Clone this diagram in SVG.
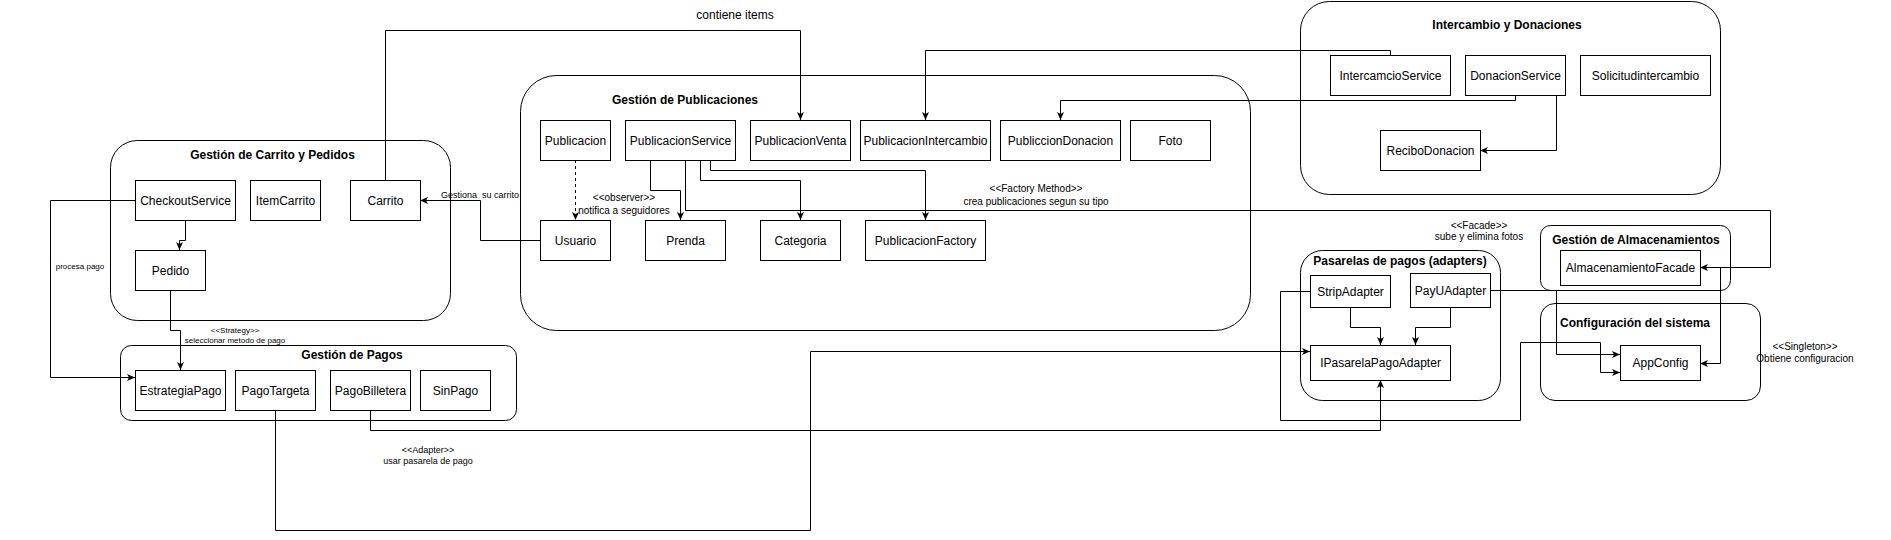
<svg xmlns="http://www.w3.org/2000/svg" width="1891" height="540" viewBox="0 0 1891 540">
<style>
.c{fill:none;stroke:#000;stroke-width:1}
.n{fill:#fff;stroke:#000;stroke-width:1}
.t{font-family:"Liberation Sans",Arial,Helvetica,sans-serif;font-size:12px;fill:#000;text-anchor:middle}
.b{font-weight:bold}
.l{font-family:"Liberation Sans",Arial,Helvetica,sans-serif;fill:#000;text-anchor:middle}
.e{fill:none;stroke:#000;stroke-width:1}
</style>
<defs>
<marker id="a" markerUnits="userSpaceOnUse" markerWidth="9" markerHeight="8" refX="8" refY="4" orient="auto">
<path d="M0,0.5 L8,4 L0,7.5 L2,4 Z" fill="#000"/>
</marker>
</defs>
<rect width="1891" height="540" fill="#fff"/>

<g id="grp-carrito"><rect class="c" x="110.5" y="140.5" width="340" height="180" rx="27"/><text class="t b" x="272.5" y="159">Gestión de Carrito y Pedidos</text></g>
<g id="grp-pagos"><rect class="c" x="120.5" y="345.5" width="396" height="75" rx="11"/><text class="t b" x="352" y="359">Gestión de Pagos</text></g>
<g id="grp-publicaciones"><rect class="c" x="520.5" y="75.5" width="730" height="255" rx="36"/><text class="t b" x="685" y="103.5">Gestión de Publicaciones</text></g>
<g id="grp-intercambio"><rect class="c" x="1300.5" y="1.5" width="420" height="193" rx="29"/><text class="t b" x="1507" y="29">Intercambio y Donaciones</text></g>
<g id="grp-pasarelas"><rect class="c" x="1300.5" y="250.5" width="200" height="150" rx="22"/><text class="t b" x="1400" y="265">Pasarelas de pagos (adapters)</text></g>
<g id="grp-almacenamientos"><rect class="c" x="1540.5" y="225.5" width="190" height="65" rx="10"/><text class="t b" x="1636" y="244">Gestión de Almacenamientos</text></g>
<g id="grp-config"><rect class="c" x="1540.5" y="303.5" width="220" height="97" rx="14.5"/><text class="t b" x="1635" y="327">Configuración del sistema</text></g>

<g id="connectors">
<path class="e" d="M385.5,180 V30.5 H800.5 V120" marker-end="url(#a)"/>
<path class="e" d="M540,240.5 H480.5 V200.5 H420" marker-end="url(#a)"/>
<path class="e" d="M135,200.5 H50.5 V377.5 H135" marker-end="url(#a)"/>
<path class="e" d="M185.5,220 V240.5 H179.5 V250" marker-end="url(#a)"/>
<path class="e" d="M170.5,290 V330.5 H180.5 V370" marker-end="url(#a)"/>
<path class="e" d="M575.5,160 V220" stroke-dasharray="3,3" marker-end="url(#a)"/>
<path class="e" d="M650.5,160 V190.5 H680.5 V220" marker-end="url(#a)"/>
<path class="e" d="M700.5,160 V180.5 H800.5 V220" marker-end="url(#a)"/>
<path class="e" d="M710.5,160 V170.5 H925.5 V220" marker-end="url(#a)"/>
<path class="e" d="M685.5,160 V210.5 H1770.5 V267.5 H1700" marker-end="url(#a)"/>
<path class="e" d="M1390.5,55 V50.5 H925.5 V120" marker-end="url(#a)"/>
<path class="e" d="M1515.5,95 V100.5 H1060.5 V120" marker-end="url(#a)"/>
<path class="e" d="M1556.5,95 V150.5 H1480" marker-end="url(#a)"/>
<path class="e" d="M1350.5,307 V327.5 H1380.5 V345" marker-end="url(#a)"/>
<path class="e" d="M1450.5,307 V327.5 H1415.5 V345" marker-end="url(#a)"/>
<path class="e" d="M275.5,410 V530.5 H810.5 V351.5 H1310" marker-end="url(#a)"/>
<path class="e" d="M370.5,410 V430.5 H1380.5 V380" marker-end="url(#a)"/>
<path class="e" d="M1490,290.5 H1556.5 V354.5 H1620" marker-end="url(#a)"/>
<path class="e" d="M1310,291.5 H1280.5 V420.5 H1520.5 V342.5 H1600.5 V372.5 H1620" marker-end="url(#a)"/>
<path class="e" d="M1700,267.5 H1720.5 V363.5 H1700" marker-end="url(#a)"/>
<text class="l" font-size="12" x="735" y="19">contiene items</text>
<text class="l" font-size="9" x="480" y="198" style="white-space:pre">Gestiona  su carrito</text>
<text class="l" font-size="8" x="80" y="268.5">procesa pago</text>
<text class="l" font-size="8" x="235" y="332.5">&lt;&lt;Strategy&gt;&gt;</text>
<text class="l" font-size="8" x="235" y="343">seleccionar metodo de pago</text>
<text class="l" font-size="10" x="624" y="200.5">&lt;&lt;observer&gt;&gt;</text>
<text class="l" font-size="10" x="624" y="213.5">notifica a seguidores</text>
<text class="l" font-size="10" x="1036" y="191.5">&lt;&lt;Factory Method&gt;&gt;</text>
<text class="l" font-size="10" x="1036" y="204.5">crea publicaciones segun su tipo</text>
<text class="l" font-size="10" x="1479" y="228.5">&lt;&lt;Facade&gt;&gt;</text>
<text class="l" font-size="10" x="1479" y="240">sube y elimina fotos</text>
<text class="l" font-size="10" x="1805" y="350">&lt;&lt;Singleton&gt;&gt;</text>
<text class="l" font-size="10" x="1805" y="361.5">Obtiene configuracion</text>
<text class="l" font-size="9" x="428" y="453">&lt;&lt;Adapter&gt;&gt;</text>
<text class="l" font-size="9" x="428" y="464">usar pasarela de pago</text>
</g>

<g id="CheckoutService"><rect class="n" x="135.5" y="180.5" width="100" height="40"/><text class="t" x="185.5" y="204.5">CheckoutService</text></g>
<g id="ItemCarrito"><rect class="n" x="250.5" y="180.5" width="70" height="40"/><text class="t" x="285.5" y="204.5">ItemCarrito</text></g>
<g id="Carrito"><rect class="n" x="350.5" y="180.5" width="70" height="40"/><text class="t" x="385.5" y="204.5">Carrito</text></g>
<g id="Pedido"><rect class="n" x="135.5" y="250.5" width="70" height="40"/><text class="t" x="170.5" y="274.5">Pedido</text></g>
<g id="EstrategiaPago"><rect class="n" x="135.5" y="370.5" width="90" height="40"/><text class="t" x="180.5" y="394.5">EstrategiaPago</text></g>
<g id="PagoTargeta"><rect class="n" x="235.5" y="370.5" width="80" height="40"/><text class="t" x="275.5" y="394.5">PagoTargeta</text></g>
<g id="PagoBilletera"><rect class="n" x="330.5" y="370.5" width="80" height="40"/><text class="t" x="370.5" y="394.5">PagoBilletera</text></g>
<g id="SinPago"><rect class="n" x="420.5" y="370.5" width="70" height="40"/><text class="t" x="455.5" y="394.5">SinPago</text></g>
<g id="Publicacion"><rect class="n" x="540.5" y="120.5" width="70" height="40"/><text class="t" x="575.5" y="144.5">Publicacion</text></g>
<g id="PublicacionService"><rect class="n" x="625.5" y="120.5" width="110" height="40"/><text class="t" x="680.5" y="144.5">PublicacionService</text></g>
<g id="PublicacionVenta"><rect class="n" x="750.5" y="120.5" width="100" height="40"/><text class="t" x="800.5" y="144.5">PublicacionVenta</text></g>
<g id="PublicacionIntercambio"><rect class="n" x="860.5" y="120.5" width="130" height="40"/><text class="t" x="925.5" y="144.5">PublicacionIntercambio</text></g>
<g id="PubliccionDonacion"><rect class="n" x="1000.5" y="120.5" width="120" height="40"/><text class="t" x="1060.5" y="144.5">PubliccionDonacion</text></g>
<g id="Foto"><rect class="n" x="1130.5" y="120.5" width="80" height="40"/><text class="t" x="1170.5" y="144.5">Foto</text></g>
<g id="Usuario"><rect class="n" x="540.5" y="220.5" width="70" height="40"/><text class="t" x="575.5" y="244.5">Usuario</text></g>
<g id="Prenda"><rect class="n" x="645.5" y="220.5" width="80" height="40"/><text class="t" x="685.5" y="244.5">Prenda</text></g>
<g id="Categoria"><rect class="n" x="760.5" y="220.5" width="80" height="40"/><text class="t" x="800.5" y="244.5">Categoria</text></g>
<g id="PublicacionFactory"><rect class="n" x="865.5" y="220.5" width="120" height="40"/><text class="t" x="925.5" y="244.5">PublicacionFactory</text></g>
<g id="IntercamcioService"><rect class="n" x="1330.5" y="55.5" width="120" height="40"/><text class="t" x="1390.5" y="79.5">IntercamcioService</text></g>
<g id="DonacionService"><rect class="n" x="1465.5" y="55.5" width="100" height="40"/><text class="t" x="1515.5" y="79.5">DonacionService</text></g>
<g id="Solicitudintercambio"><rect class="n" x="1580.5" y="55.5" width="130" height="40"/><text class="t" x="1645.5" y="79.5">Solicitudintercambio</text></g>
<g id="ReciboDonacion"><rect class="n" x="1380.5" y="130.5" width="100" height="40"/><text class="t" x="1430.5" y="154.5">ReciboDonacion</text></g>
<g id="StripAdapter"><rect class="n" x="1310.5" y="275.5" width="80" height="32"/><text class="t" x="1350.5" y="295.5">StripAdapter</text></g>
<g id="PayUAdapter"><rect class="n" x="1410.5" y="273.5" width="80" height="34"/><text class="t" x="1450.5" y="294.5">PayUAdapter</text></g>
<g id="IPasarelaPagoAdapter"><rect class="n" x="1310.5" y="345.5" width="140" height="35"/><text class="t" x="1380.5" y="367">IPasarelaPagoAdapter</text></g>
<g id="AlmacenamientoFacade"><rect class="n" x="1560.5" y="250.5" width="140" height="35"/><text class="t" x="1630.5" y="272">AlmacenamientoFacade</text></g>
<g id="AppConfig"><rect class="n" x="1620.5" y="345.5" width="80" height="35"/><text class="t" x="1660.5" y="367">AppConfig</text></g>
</svg>
